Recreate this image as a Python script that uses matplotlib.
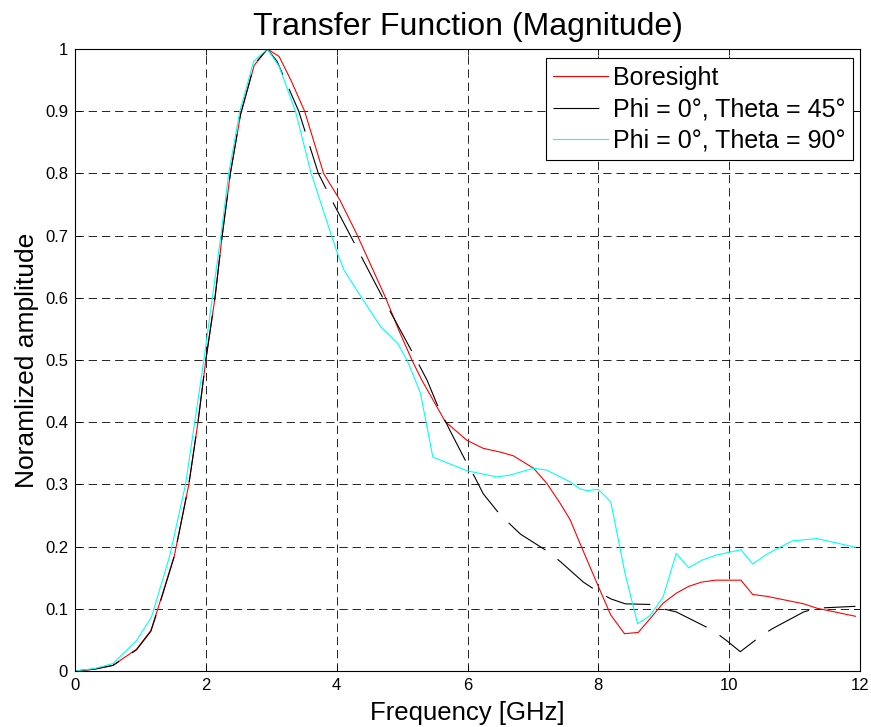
import matplotlib
matplotlib.use("Agg")
import matplotlib.pyplot as plt

plt.rcParams['font.family'] = ['Liberation Sans', 'DejaVu Sans']
plt.rcParams['lines.scale_dashes'] = False

# Boresight
f_bore = [0, 0.3, 0.58, 0.94, 1.16, 1.29, 1.52, 1.74, 1.88, 2.0, 2.14, 2.25, 2.375,
          2.53, 2.74, 2.94, 3.12, 3.3, 3.51, 3.8, 4.05, 4.3, 4.74, 4.97, 5.15, 5.3,
          5.66, 5.99, 6.24, 6.5, 6.7, 7.01, 7.21, 7.42, 7.57, 7.72, 8.0, 8.19, 8.4,
          8.61, 8.79, 8.99, 9.19, 9.38, 9.58, 9.79, 10.18, 10.36, 10.58, 11.14,
          11.34, 11.93]
a_bore = [0, 0.003, 0.009, 0.035, 0.065, 0.108, 0.186, 0.30, 0.40, 0.5, 0.6, 0.7, 0.8,
          0.894, 0.974, 1.0, 0.988, 0.95, 0.9, 0.8, 0.757, 0.704, 0.602, 0.543, 0.5,
          0.468, 0.401, 0.371, 0.358, 0.352, 0.346, 0.326, 0.302, 0.269, 0.243, 0.205,
          0.136, 0.09, 0.06, 0.062, 0.084, 0.109, 0.125, 0.136, 0.143, 0.146, 0.146,
          0.123, 0.12, 0.108, 0.101, 0.088]

# Phi = 0, Theta = 45
f_45 = [0, 0.3, 0.58, 0.94, 1.16, 1.29, 1.52, 1.74, 1.88, 2.0, 2.14, 2.25, 2.375,
        2.53, 2.74, 2.94, 3.09, 3.42, 3.72, 3.96, 4.21, 4.72, 5.17, 5.38, 5.53, 5.73,
        5.99, 6.11, 6.24, 6.5, 6.81, 7.26, 7.44, 7.77, 8.0, 8.19, 8.41, 8.79, 8.99,
        9.19, 9.74, 9.96, 10.17, 10.48, 10.66, 11.14, 11.34, 11.93]
a_45 = [0, 0.003, 0.009, 0.034, 0.064, 0.106, 0.185, 0.30, 0.40, 0.5, 0.6, 0.7, 0.8,
        0.895, 0.975, 1.0, 0.98, 0.9, 0.8, 0.75, 0.7, 0.597, 0.51, 0.468, 0.43, 0.387,
        0.334, 0.312, 0.285, 0.251, 0.22, 0.19, 0.174, 0.143, 0.127, 0.116, 0.108,
        0.107, 0.1, 0.095, 0.066, 0.049, 0.031, 0.056, 0.068, 0.095, 0.101, 0.104]

# Phi = 0, Theta = 90
f_90 = [0, 0.3, 0.58, 0.94, 1.17, 1.45, 1.69, 1.83, 1.97, 2.10, 2.23, 2.35, 2.52,
        2.73, 2.94, 3.12, 3.37, 3.61, 3.92, 4.01, 4.11, 4.37, 4.67, 4.93, 5.07, 5.20,
        5.28, 5.47, 5.99, 6.45, 6.65, 7.01, 7.21, 7.42, 7.57, 7.72, 7.82, 8.0, 8.19,
        8.41, 8.6, 8.79, 8.99, 9.19, 9.38, 9.58, 9.79, 9.96, 10.18, 10.36, 10.58,
        10.96, 11.34, 11.93]
a_90 = [0, 0.004, 0.012, 0.049, 0.087, 0.186, 0.30, 0.40, 0.5, 0.6, 0.7, 0.8, 0.9,
        0.98, 1.0, 0.972, 0.9, 0.8, 0.7, 0.672, 0.645, 0.602, 0.554, 0.527, 0.501,
        0.468, 0.447, 0.344, 0.322, 0.312, 0.315, 0.326, 0.323, 0.312, 0.304, 0.293,
        0.29, 0.292, 0.272, 0.156, 0.076, 0.089, 0.119, 0.189, 0.166, 0.178, 0.186,
        0.19, 0.195, 0.172, 0.188, 0.209, 0.213, 0.199]

xticks = [0, 2, 4, 6, 8, 10, 12]
yticks = [0, 0.1, 0.2, 0.3, 0.4, 0.5, 0.6, 0.7, 0.8, 0.9, 1]
ytick_labels = ['0', '0.1', '0.2', '0.3', '0.4', '0.5', '0.6', '0.7', '0.8', '0.9', '1']

fig = plt.figure(figsize=(8.71, 7.27), dpi=100)
ax = fig.add_axes([75 / 871, 56 / 727, 785 / 871, 622 / 727])

ax.plot(f_bore, a_bore, color='red', lw=0.8, label='Boresight')
ax.plot(f_45, a_45, color='black', lw=0.8, linestyle=(0, (33, 11)),
        label='Phi = 0°, Theta = 45°')
ax.plot(f_90, a_90, color='cyan', lw=0.8, label='Phi = 0°, Theta = 90°')

ax.set_xlim(0, 12)
ax.set_ylim(0, 1)
ax.set_xticks(xticks)
ax.set_yticks(yticks)
ax.set_yticklabels(ytick_labels)
ax.grid(True, color='black', linestyle=(0, (6, 3.5)), lw=0.6)
ax.tick_params(direction='in', top=True, right=True, length=4, labelsize=12,
               width=0.6, pad=5)
for s in ax.spines.values():
    s.set_linewidth(0.8)

ax.set_title('Transfer Function (Magnitude)', fontsize=23, pad=10)
ax.set_xlabel('Frequency [GHz]', fontsize=18.5, labelpad=6)
ax.set_ylabel('Noramlized amplitude', fontsize=19, labelpad=4)

leg = ax.legend(loc='upper right', bbox_to_anchor=(0.9915, 0.985), fontsize=18,
                fancybox=False, edgecolor='black', framealpha=1,
                handlelength=2.2, handletextpad=0.2, borderpad=0.3,
                labelspacing=0.3, borderaxespad=0)
leg.get_frame().set_linewidth(0.8)

fig.savefig('out.png', dpi=100)
